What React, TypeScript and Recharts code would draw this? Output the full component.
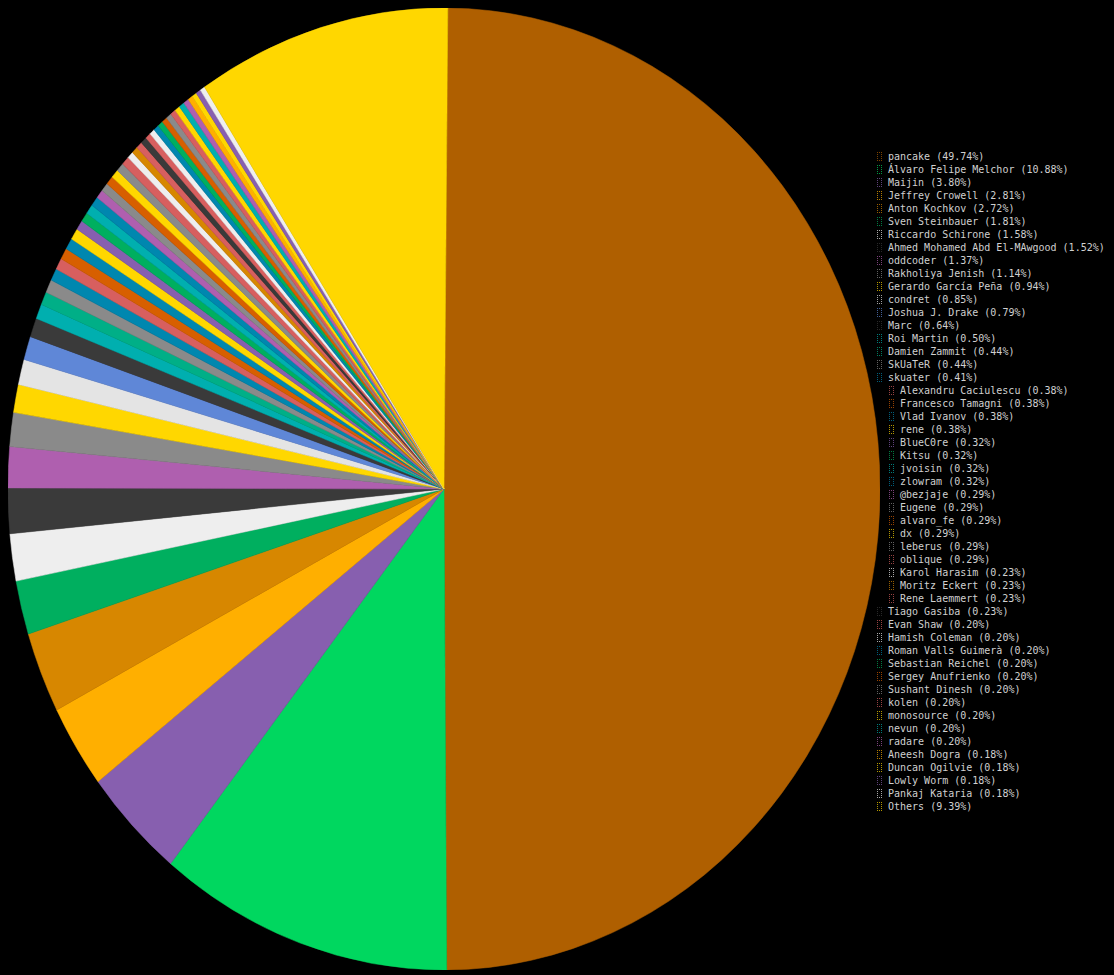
import { PieChart, Pie, Cell } from "recharts";

const authors = [
  "pancake", "Álvaro Felipe Melchor", "Maijin", "Jeffrey Crowell", "Anton Kochkov",
  "Sven Steinbauer", "Riccardo Schirone", "Ahmed Mohamed Abd El-MAwgood", "oddcoder",
  "Rakholiya Jenish", "Gerardo García Peña", "condret", "Joshua J. Drake", "Marc",
  "Roi Martin", "Damien Zammit", "SkUaTeR", "skuater", "Alexandru Caciulescu",
  "Francesco Tamagni", "Vlad Ivanov", "rene", "BlueC0re", "Kitsu", "jvoisin", "zlowram",
  "@bezjaje", "Eugene", "alvaro_fe", "dx", "leberus", "oblique", "Karol Harasim",
  "Moritz Eckert", "Rene Laemmert", "Tiago Gasiba", "Evan Shaw", "Hamish Coleman",
  "Roman Valls Guimerà", "Sebastian Reichel", "Sergey Anufrienko", "Sushant Dinesh",
  "kolen", "monosource", "nevun", "radare", "Aneesh Dogra", "Duncan Ogilvie",
  "Lowly Worm", "Pankaj Kataria", "Others",
];

const shares = [
  49.74, 10.88, 3.8, 2.81, 2.72, 1.81, 1.58, 1.52, 1.37, 1.14, 0.94, 0.85, 0.79, 0.64,
  0.5, 0.44, 0.44, 0.41, 0.38, 0.38, 0.38, 0.38, 0.32, 0.32, 0.32, 0.32, 0.29, 0.29,
  0.29, 0.29, 0.29, 0.29, 0.23, 0.23, 0.23, 0.23, 0.2, 0.2, 0.2, 0.2, 0.2, 0.2, 0.2,
  0.2, 0.2, 0.2, 0.18, 0.18, 0.18, 0.18, 9.39,
];

const colors = [
  "#af5f00", "#00d75f", "#875faf", "#ffaf00", "#d78700", "#00af5f", "#eeeeee", "#3a3a3a",
  "#af5faf", "#8a8a8a", "#ffd700", "#e4e4e4", "#5f87d7", "#3a3a3a", "#00afaf", "#00af87",
  "#8a8a8a", "#0087af", "#d75f5f", "#d75f00", "#0087af", "#ffd700", "#875faf", "#00af5f",
  "#00afaf", "#0087af", "#af5faf", "#8a8a8a", "#d75f00", "#ffd700", "#8a8a8a", "#d75f5f",
  "#eeeeee", "#d78700", "#d75f5f", "#3a3a3a", "#d75f5f", "#eeeeee", "#0087af", "#00af5f",
  "#d75f00", "#8a8a8a", "#d75f5f", "#ffd700", "#00afaf", "#af5faf", "#ffaf00", "#ffd700",
  "#875faf", "#eeeeee", "#ffd700",
];

const data = authors.map((name, i) => ({ name, value: shares[i] }));

// the terminal pie is an ellipse: draw a circle and stretch it
const RX = 436;
const RY = 481;

export default function App() {
  return (
    <div
      style={{
        position: "absolute",
        left: 0,
        top: 0,
        width: 1114,
        height: 975,
        background: "#000",
        overflow: "hidden",
      }}
    >
      <div
        style={{
          position: "absolute",
          left: 8,
          top: 8,
          width: RX * 2,
          height: RX * 2,
          transform: `scaleY(${RY / RX})`,
          transformOrigin: "0 0",
        }}
      >
        <PieChart width={RX * 2} height={RX * 2} margin={{ top: 0, right: 0, bottom: 0, left: 0 }}>
          <Pie
            data={data}
            dataKey="value"
            nameKey="name"
            cx={RX}
            cy={RX}
            innerRadius={0}
            outerRadius={RX}
            startAngle={89.5}
            endAngle={-270.5}
            isAnimationActive={false}
          >
            {data.map((d, i) => (
              <Cell key={`cell-${i}`} fill={colors[i]} stroke={colors[i]} strokeWidth={0.5} />
            ))}
          </Pie>
        </PieChart>
      </div>

      {data.map((d, i) => {
        // rows beside the widest part of the pie are pushed right
        const left = i >= 18 && i <= 34 ? 889 : 877;
        return (
          <div
            key={`leg-${i}`}
            style={{
              position: "absolute",
              left,
              top: 150 + i * 13,
              height: 13,
              lineHeight: "13px",
              display: "flex",
              alignItems: "center",
              fontFamily: "'DejaVu Sans Mono', monospace",
              fontSize: 10,
              color: "#d0d0d0",
              whiteSpace: "nowrap",
            }}
          >
            <span
              style={{
                display: "inline-block",
                width: 3,
                height: 7,
                border: `1px dotted ${colors[i]}`,
                opacity: 0.7,
                marginRight: 6,
              }}
            />
            {`${d.name} (${d.value.toFixed(2)}%)`}
          </div>
        );
      })}
    </div>
  );
}
